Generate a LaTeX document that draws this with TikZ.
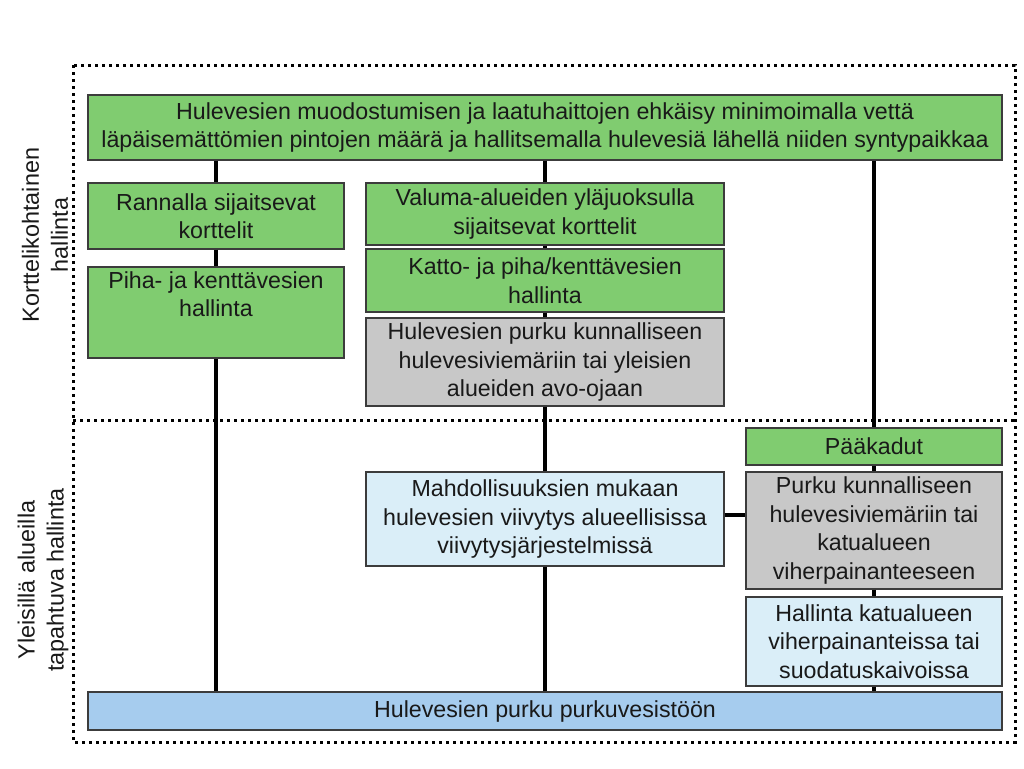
\documentclass[tikz,border=0pt]{standalone}
\usepackage{fontspec}
\setmainfont{Liberation Sans}
\definecolor{boxgreen}{RGB}{128,204,112}
\definecolor{boxgray}{RGB}{200,200,200}
\definecolor{boxlight}{RGB}{218,238,248}
\definecolor{boxblue}{RGB}{166,204,238}
\definecolor{edgegray}{RGB}{60,60,60}
\definecolor{txt}{RGB}{25,25,25}
\begin{document}
\begin{tikzpicture}[x=1pt,y=-1pt,
  box/.style={draw=edgegray, line width=1.1pt, rectangle, inner sep=0pt, align=center,
    text=txt, font=\fontsize{23.2}{28.5}\selectfont},
  gbox/.style={box, fill=boxgreen},
  graybox/.style={box, fill=boxgray},
  lbox/.style={box, fill=boxlight},
  bbox/.style={box, fill=boxblue},
  conn/.style={line width=3.2pt, black},
  dots/.style={line width=3pt, dash pattern=on 3pt off 4pt, black},
  sidelabel/.style={rotate=90, align=center, text=txt, font=\fontsize{23.4}{29}\selectfont}]
\useasboundingbox (0,0) rectangle (1024,768);
% frames
\coordinate (ftl) at (73,65);
\coordinate (fbr) at (1015,742);
\coordinate (dl) at (73,420);
\coordinate (dr) at (1015,420);
\draw[dots] (ftl) rectangle (fbr);
\draw[dots] (dl) -- (dr);
% side labels
\node[sidelabel] (lab1) at (45,235) {Korttelikohtainen\\hallinta};
\node[sidelabel] (lab2) at (43,580) {Yleisillä alueilla\\tapahtuva hallinta};
% boxes
\node[gbox, minimum width=914pt, minimum height=65pt] (top) at (545,127.5)
  {Hulevesien muodostumisen ja laatuhaittojen ehkäisy minimoimalla vettä\\läpäisemättömien pintojen määrä ja hallitsemalla hulevesiä lähellä niiden syntypaikkaa};
\node[gbox, minimum width=256pt, minimum height=66pt] (rannalla) at (216,216)
  {Rannalla sijaitsevat\\korttelit};
\node[gbox, minimum width=256pt, minimum height=91pt] (piha) at (216,312.5)
  {Piha- ja kenttävesien\\hallinta\\\strut};
\node[gbox, minimum width=358pt, minimum height=62pt] (valuma) at (545,214)
  {Valuma-alueiden yläjuoksulla\\sijaitsevat korttelit};
\node[gbox, minimum width=358pt, minimum height=63pt] (katto) at (545,280.5)
  {Katto- ja piha/kenttävesien\\hallinta};
\node[graybox, minimum width=358pt, minimum height=88pt] (purku1) at (545,362)
  {Hulevesien purku kunnalliseen\\hulevesiviemäriin tai yleisien\\alueiden avo-ojaan};
\node[lbox, minimum width=358pt, minimum height=94pt] (mahd) at (545,519)
  {Mahdollisuuksien mukaan\\hulevesien viivytys alueellisissa\\viivytysjärjestelmissä};
\node[gbox, minimum width=256pt, minimum height=37pt] (paakadut) at (874,446.5)
  {Pääkadut};
\node[graybox, minimum width=256pt, minimum height=117pt] (purku2) at (874,530.5)
  {Purku kunnalliseen\\hulevesiviemäriin tai\\katualueen\\viherpainanteeseen};
\node[lbox, minimum width=256pt, minimum height=89pt] (hallinta) at (874,641.5)
  {Hallinta katualueen\\viherpainanteissa tai\\suodatuskaivoissa};
\node[bbox, minimum width=914pt, minimum height=38pt] (bottom) at (545,711)
  {Hulevesien purku purkuvesistöön};
% connectors left column
\draw[conn] (top.south -| rannalla) -- (rannalla.north);
\draw[conn] (rannalla.south) -- (piha.north);
\draw[conn] (piha.south) -- (bottom.north -| piha);
% middle column
\draw[conn] (top.south -| valuma) -- (valuma.north);
\draw[conn] (valuma.south) -- (katto.north);
\draw[conn] (katto.south) -- (purku1.north);
\draw[conn] (purku1.south) -- (mahd.north);
\draw[conn] (mahd.south) -- (bottom.north -| mahd);
% right column
\draw[conn] (top.south -| paakadut) -- (paakadut.north);
\draw[conn] (paakadut.south) -- (purku2.north);
\draw[conn] (purku2.south) -- (hallinta.north);
\draw[conn] (hallinta.south) -- (bottom.north -| hallinta);
% cross link
\draw[conn] ([yshift=4pt]mahd.east) -- ([yshift=4pt]mahd.east -| purku2.west);
\end{tikzpicture}
\end{document}
